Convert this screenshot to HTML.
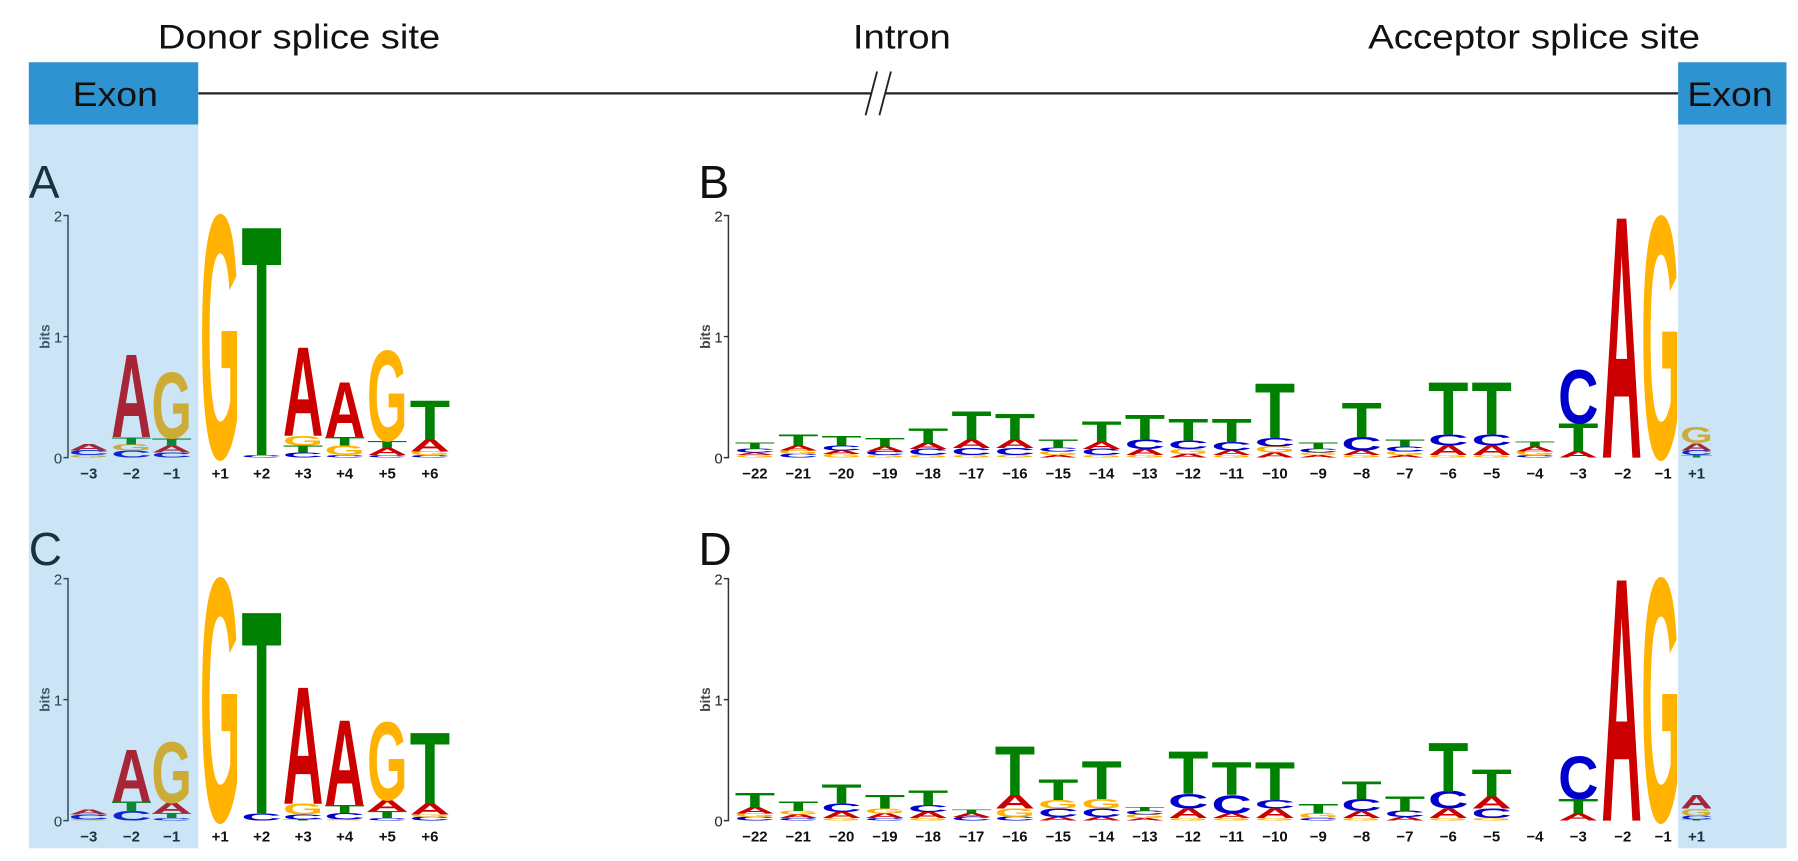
<!DOCTYPE html>
<html><head><meta charset="utf-8"><style>
html,body{margin:0;padding:0;background:#fff;}
svg{display:block;}
text{font-family:"Liberation Sans",sans-serif;}
.a{fill:#cc0000}.c{fill:#0000cc}.g{fill:#ffb300}.t{fill:#008000}
.L{font-weight:bold;}
.tk{font-size:13px;fill:#222;text-anchor:end;}
.pl{font-size:13px;font-weight:bold;fill:#111;text-anchor:middle;}
</style></head><body>
<svg width="1798" height="861" viewBox="0 0 1560 747" preserveAspectRatio="none" xmlns="http://www.w3.org/2000/svg">
<rect width="1560" height="747" fill="#fff"/>
<text x="137" y="42" font-size="30" textLength="245" lengthAdjust="spacingAndGlyphs" fill="#111">Donor splice site</text>
<text x="740" y="42" font-size="30" textLength="85" lengthAdjust="spacingAndGlyphs" fill="#111">Intron</text>
<text x="1187" y="42" font-size="30" textLength="288" lengthAdjust="spacingAndGlyphs" fill="#111">Acceptor splice site</text>
<line x1="172" y1="81" x2="1456" y2="81" stroke="#222" stroke-width="2"/>
<rect x="756" y="70" width="12" height="22" fill="#fff"/>
<line x1="751" y1="100" x2="761" y2="62" stroke="#222" stroke-width="1.6"/>
<line x1="763" y1="100" x2="773" y2="62" stroke="#222" stroke-width="1.6"/>
<rect x="25" y="54" width="147" height="54" fill="#2f93d1"/>
<rect x="1456" y="54" width="94" height="54" fill="#2f93d1"/>
<text x="63" y="92" font-size="30" textLength="74" lengthAdjust="spacingAndGlyphs" fill="#111">Exon</text>
<text x="1464" y="92" font-size="30" textLength="74" lengthAdjust="spacingAndGlyphs" fill="#111">Exon</text>
<text x="25" y="172" font-size="40" fill="#111">A</text>
<text x="606" y="172" font-size="40" fill="#111">B</text>
<text x="25" y="490" font-size="40" fill="#111">C</text>
<text x="606" y="490" font-size="40" fill="#111">D</text>
<g stroke="#333" stroke-width="1.3" fill="none">
<path d="M55 187H59V397H55M55 292H59"/>
<path d="M628 187H632V397H628M628 292H632"/>
<path d="M55 502H59V712H55M55 607H59"/>
<path d="M628 502H632V712H628M628 607H632"/>
</g>
<text class="tk" x="54" y="192">2</text><text class="tk" x="54" y="297">1</text><text class="tk" x="54" y="402">0</text>
<text class="tk" x="627" y="192">2</text><text class="tk" x="627" y="297">1</text><text class="tk" x="627" y="402">0</text>
<text class="tk" x="54" y="507">2</text><text class="tk" x="54" y="612">1</text><text class="tk" x="54" y="717">0</text>
<text class="tk" x="627" y="507">2</text><text class="tk" x="627" y="612">1</text><text class="tk" x="627" y="717">0</text>
<text transform="translate(43,292) rotate(-90)" font-size="12" font-weight="bold" fill="#444" text-anchor="middle">bits</text>
<text transform="translate(616,292) rotate(-90)" font-size="12" font-weight="bold" fill="#444" text-anchor="middle">bits</text>
<text transform="translate(43,607) rotate(-90)" font-size="12" font-weight="bold" fill="#444" text-anchor="middle">bits</text>
<text transform="translate(616,607) rotate(-90)" font-size="12" font-weight="bold" fill="#444" text-anchor="middle">bits</text>

<!-- Panel A -->
<g class="col" cx="77" base="397"><text class="L g" h=".02">G</text><text class="L c" h=".04">C</text><text class="L a" h=".05">A</text></g>
<g class="col" cx="114" base="397"><text class="L c" h=".06">C</text><text class="L g" h=".05">G</text><text class="L t" h=".06">T</text><text class="L a" h=".68">A</text></g>
<g class="col" cx="149" base="397"><text class="L c" h=".04">C</text><text class="L a" h=".06">A</text><text class="L t" h=".06">T</text><text class="L g" h=".54">G</text></g>
<g class="col" cx="191" base="397"><text class="L g" h="1.99">G</text></g>
<g class="col" cx="227" base="397"><text class="L c" h=".02">C</text><text class="L t" h="1.88">T</text></g>
<g class="col" cx="263" base="397"><text class="L c" h=".04">C</text><text class="L t" h=".06">T</text><text class="L g" h=".08">G</text><text class="L a" h=".73">A</text></g>
<g class="col" cx="299" base="397"><text class="L c" h=".02">C</text><text class="L g" h=".08">G</text><text class="L t" h=".07">T</text><text class="L a" h=".45">A</text></g>
<g class="col" cx="336" base="397"><text class="L c" h=".02">C</text><text class="L a" h=".06">A</text><text class="L t" h=".06">T</text><text class="L g" h=".74">G</text></g>
<g class="col" cx="373" base="397"><text class="L c" h=".02">C</text><text class="L g" h=".03">G</text><text class="L a" h=".1">A</text><text class="L t" h=".32">T</text></g>

<!-- Panel C -->
<g class="col" cx="77" base="712"><text class="L g" h=".01">G</text><text class="L c" h=".04">C</text><text class="L a" h=".04">A</text></g>
<g class="col" cx="114" base="712"><text class="L c" h=".08">C</text><text class="L t" h=".08">T</text><text class="L a" h=".43">A</text></g>
<g class="col" cx="149" base="712"><text class="L c" h=".02">C</text><text class="L t" h=".04">T</text><text class="L a" h=".09">A</text><text class="L g" h=".5">G</text></g>
<g class="col" cx="191" base="712"><text class="L g" h="1.99">G</text></g>
<g class="col" cx="227" base="712"><text class="L c" h=".06">C</text><text class="L t" h="1.66">T</text></g>
<g class="col" cx="263" base="712"><text class="L t" h=".01">T</text><text class="L c" h=".04">C</text><text class="L g" h=".09">G</text><text class="L a" h=".96">A</text></g>
<g class="col" cx="299" base="712"><text class="L g" h=".01">G</text><text class="L c" h=".05">C</text><text class="L t" h=".07">T</text><text class="L a" h=".7">A</text></g>
<g class="col" cx="336" base="712"><text class="L c" h=".02">C</text><text class="L t" h=".06">T</text><text class="L a" h=".09">A</text><text class="L g" h=".64">G</text></g>
<g class="col" cx="373" base="712"><text class="L c" h=".03">C</text><text class="L g" h=".02">G</text><text class="L a" h=".09">A</text><text class="L t" h=".58">T</text></g>

<!-- Panel B -->
<g class="col" cx="655" base="397"><text class="L g" h=".02">G</text><text class="L a" h=".02">A</text><text class="L c" h=".03">C</text><text class="L t" h=".05">T</text></g>
<g class="col" cx="692.6" base="397"><text class="L c" h=".03">C</text><text class="L g" h=".03">G</text><text class="L a" h=".04">A</text><text class="L t" h=".09">T</text></g>
<g class="col" cx="730.2" base="397"><text class="L g" h=".03">G</text><text class="L a" h=".03">A</text><text class="L c" h=".04">C</text><text class="L t" h=".08">T</text></g>
<g class="col" cx="767.8" base="397"><text class="L g" h=".02">G</text><text class="L c" h=".03">C</text><text class="L a" h=".04">A</text><text class="L t" h=".07">T</text></g>
<g class="col" cx="805.4" base="397"><text class="L g" h=".02">G</text><text class="L c" h=".05">C</text><text class="L a" h=".05">A</text><text class="L t" h=".12">T</text></g>
<g class="col" cx="843" base="397"><text class="L g" h=".02">G</text><text class="L c" h=".06">C</text><text class="L a" h=".07">A</text><text class="L t" h=".23">T</text></g>
<g class="col" cx="880.6" base="397"><text class="L g" h=".02">G</text><text class="L c" h=".06">C</text><text class="L a" h=".07">A</text><text class="L t" h=".21">T</text></g>
<g class="col" cx="918.2" base="397"><text class="L a" h=".02">A</text><text class="L g" h=".03">G</text><text class="L c" h=".03">C</text><text class="L t" h=".07">T</text></g>
<g class="col" cx="955.8" base="397"><text class="L g" h=".02">G</text><text class="L c" h=".05">C</text><text class="L a" h=".06">A</text><text class="L t" h=".17">T</text></g>
<g class="col" cx="993.4" base="397"><text class="L g" h=".02">G</text><text class="L a" h=".05">A</text><text class="L c" h=".08">C</text><text class="L t" h=".2">T</text></g>
<g class="col" cx="1031" base="397"><text class="L a" h=".03">A</text><text class="L g" h=".04">G</text><text class="L c" h=".07">C</text><text class="L t" h=".18">T</text></g>
<g class="col" cx="1068.6" base="397"><text class="L g" h=".02">G</text><text class="L a" h=".04">A</text><text class="L c" h=".07">C</text><text class="L t" h=".19">T</text></g>
<g class="col" cx="1106.2" base="397"><text class="L a" h=".04">A</text><text class="L g" h=".05">G</text><text class="L c" h=".07">C</text><text class="L t" h=".45">T</text></g>
<g class="col" cx="1143.8" base="397"><text class="L a" h=".02">A</text><text class="L g" h=".02">G</text><text class="L c" h=".03">C</text><text class="L t" h=".05">T</text></g>
<g class="col" cx="1181.4" base="397"><text class="L g" h=".02">G</text><text class="L a" h=".04">A</text><text class="L c" h=".11">C</text><text class="L t" h=".28">T</text></g>
<g class="col" cx="1219" base="397"><text class="L a" h=".02">A</text><text class="L g" h=".03">G</text><text class="L c" h=".04">C</text><text class="L t" h=".06">T</text></g>
<g class="col" cx="1256.6" base="397"><text class="L g" h=".02">G</text><text class="L a" h=".08">A</text><text class="L c" h=".09">C</text><text class="L t" h=".43">T</text></g>
<g class="col" cx="1294.2" base="397"><text class="L g" h=".02">G</text><text class="L a" h=".08">A</text><text class="L c" h=".09">C</text><text class="L t" h=".43">T</text></g>
<g class="col" cx="1331.8" base="397"><text class="L c" h=".02">C</text><text class="L g" h=".03">G</text><text class="L a" h=".04">A</text><text class="L t" h=".04">T</text></g>
<g class="col" cx="1369.4" base="397"><text class="L a" h=".05">A</text><text class="L t" h=".23">T</text><text class="L c" h=".44">C</text></g>
<g class="col" cx="1407" base="397"><text class="L a" h="1.98">A</text></g>
<g class="col" cx="1441" base="397" w="34"><text class="L g" h="1.98">G</text></g>
<g class="col" cx="1472" base="397" w="28"><text class="L t" h=".02">T</text><text class="L c" h=".04">C</text><text class="L a" h=".06">A</text><text class="L g" h=".13">G</text></g>

<!-- Panel D -->
<g class="col" cx="655" base="712"><text class="L c" h=".03">C</text><text class="L g" h=".03">G</text><text class="L a" h=".05">A</text><text class="L t" h=".12">T</text></g>
<g class="col" cx="692.6" base="712"><text class="L c" h=".02">C</text><text class="L a" h=".03">A</text><text class="L g" h=".03">G</text><text class="L t" h=".08">T</text></g>
<g class="col" cx="730.2" base="712"><text class="L g" h=".02">G</text><text class="L a" h=".05">A</text><text class="L c" h=".07">C</text><text class="L t" h=".16">T</text></g>
<g class="col" cx="767.8" base="712"><text class="L c" h=".02">C</text><text class="L a" h=".04">A</text><text class="L g" h=".04">G</text><text class="L t" h=".11">T</text></g>
<g class="col" cx="805.4" base="712"><text class="L g" h=".02">G</text><text class="L a" h=".05">A</text><text class="L c" h=".06">C</text><text class="L t" h=".12">T</text></g>
<g class="col" cx="843" base="712"><text class="L c" h=".03">C</text><text class="L a" h=".03">A</text><text class="L t" h=".03">T</text></g>
<g class="col" cx="880.6" base="712"><text class="L c" h=".03">C</text><text class="L g" h=".07">G</text><text class="L a" h=".11">A</text><text class="L t" h=".4">T</text></g>
<g class="col" cx="918.2" base="712"><text class="L a" h=".03">A</text><text class="L c" h=".07">C</text><text class="L g" h=".07">G</text><text class="L t" h=".17">T</text></g>
<g class="col" cx="955.8" base="712"><text class="L a" h=".03">A</text><text class="L c" h=".07">C</text><text class="L g" h=".08">G</text><text class="L t" h=".31">T</text></g>
<g class="col" cx="993.4" base="712"><text class="L a" h=".02">A</text><text class="L g" h=".03">G</text><text class="L c" h=".03">C</text><text class="L t" h=".03">T</text></g>
<g class="col" cx="1031" base="712"><text class="L g" h=".02">G</text><text class="L a" h=".08">A</text><text class="L c" h=".12">C</text><text class="L t" h=".35">T</text></g>
<g class="col" cx="1068.6" base="712"><text class="L g" h=".02">G</text><text class="L a" h=".04">A</text><text class="L c" h=".15">C</text><text class="L t" h=".27">T</text></g>
<g class="col" cx="1106.2" base="712"><text class="L g" h=".02">G</text><text class="L a" h=".08">A</text><text class="L c" h=".07">C</text><text class="L t" h=".31">T</text></g>
<g class="col" cx="1143.8" base="712"><text class="L c" h=".02">C</text><text class="L g" h=".04">G</text><text class="L t" h=".08">T</text></g>
<g class="col" cx="1181.4" base="712"><text class="L g" h=".02">G</text><text class="L a" h=".06">A</text><text class="L c" h=".1">C</text><text class="L t" h=".14">T</text></g>
<g class="col" cx="1219" base="712"><text class="L a" h=".03">A</text><text class="L c" h=".05">C</text><text class="L t" h=".12">T</text></g>
<g class="col" cx="1256.6" base="712"><text class="L g" h=".02">G</text><text class="L a" h=".08">A</text><text class="L c" h=".14">C</text><text class="L t" h=".4">T</text></g>
<g class="col" cx="1294.2" base="712"><text class="L g" h=".02">G</text><text class="L c" h=".08">C</text><text class="L a" h=".1">A</text><text class="L t" h=".22">T</text></g>
<g class="col" cx="1369.4" base="712"><text class="L a" h=".06">A</text><text class="L t" h=".12">T</text><text class="L c" h=".35">C</text></g>
<g class="col" cx="1407" base="712"><text class="L a" h="1.99">A</text></g>
<g class="col" cx="1441" base="712" w="34"><text class="L g" h="1.99">G</text></g>
<g class="col" cx="1472" base="712" w="28"><text class="L t" h=".01">T</text><text class="L c" h=".03">C</text><text class="L g" h=".06">G</text><text class="L a" h=".11">A</text></g>

<g>
<text class="pl" x="77" y="415">−3</text><text class="pl" x="114" y="415">−2</text><text class="pl" x="149" y="415">−1</text><text class="pl" x="191" y="415">+1</text><text class="pl" x="227" y="415">+2</text><text class="pl" x="263" y="415">+3</text><text class="pl" x="299" y="415">+4</text><text class="pl" x="336" y="415">+5</text><text class="pl" x="373" y="415">+6</text>
<text class="pl" x="77" y="730">−3</text><text class="pl" x="114" y="730">−2</text><text class="pl" x="149" y="730">−1</text><text class="pl" x="191" y="730">+1</text><text class="pl" x="227" y="730">+2</text><text class="pl" x="263" y="730">+3</text><text class="pl" x="299" y="730">+4</text><text class="pl" x="336" y="730">+5</text><text class="pl" x="373" y="730">+6</text>
</g>
<g>
<text class="pl" x="655" y="415">−22</text><text class="pl" x="692.6" y="415">−21</text><text class="pl" x="730.2" y="415">−20</text><text class="pl" x="767.8" y="415">−19</text><text class="pl" x="805.4" y="415">−18</text><text class="pl" x="843" y="415">−17</text><text class="pl" x="880.6" y="415">−16</text><text class="pl" x="918.2" y="415">−15</text><text class="pl" x="955.8" y="415">−14</text><text class="pl" x="993.4" y="415">−13</text><text class="pl" x="1031" y="415">−12</text><text class="pl" x="1068.6" y="415">−11</text><text class="pl" x="1106.2" y="415">−10</text><text class="pl" x="1143.8" y="415">−9</text><text class="pl" x="1181.4" y="415">−8</text><text class="pl" x="1219" y="415">−7</text><text class="pl" x="1256.6" y="415">−6</text><text class="pl" x="1294.2" y="415">−5</text><text class="pl" x="1331.8" y="415">−4</text><text class="pl" x="1369.4" y="415">−3</text><text class="pl" x="1408" y="415">−2</text><text class="pl" x="1443" y="415">−1</text><text class="pl" x="1472" y="415">+1</text>
<text class="pl" x="655" y="730">−22</text><text class="pl" x="692.6" y="730">−21</text><text class="pl" x="730.2" y="730">−20</text><text class="pl" x="767.8" y="730">−19</text><text class="pl" x="805.4" y="730">−18</text><text class="pl" x="843" y="730">−17</text><text class="pl" x="880.6" y="730">−16</text><text class="pl" x="918.2" y="730">−15</text><text class="pl" x="955.8" y="730">−14</text><text class="pl" x="993.4" y="730">−13</text><text class="pl" x="1031" y="730">−12</text><text class="pl" x="1068.6" y="730">−11</text><text class="pl" x="1106.2" y="730">−10</text><text class="pl" x="1143.8" y="730">−9</text><text class="pl" x="1181.4" y="730">−8</text><text class="pl" x="1219" y="730">−7</text><text class="pl" x="1256.6" y="730">−6</text><text class="pl" x="1294.2" y="730">−5</text><text class="pl" x="1331.8" y="730">−4</text><text class="pl" x="1369.4" y="730">−3</text><text class="pl" x="1408" y="730">−2</text><text class="pl" x="1443" y="730">−1</text><text class="pl" x="1472" y="730">+1</text>
</g>
<rect x="25" y="108" width="147" height="628" fill="rgb(52,152,219)" fill-opacity="0.25"/>
<rect x="1456" y="108" width="94" height="628" fill="rgb(52,152,219)" fill-opacity="0.25"/>
</svg>
<script>
(function(){
var P=105, CAP=0.69;
var cols=document.querySelectorAll('g.col');
for(var i=0;i<cols.length;i++){
  var g=cols[i];
  var cx=parseFloat(g.getAttribute('cx')), base=parseFloat(g.getAttribute('base'));
  var w=parseFloat(g.getAttribute('w')||'35');
  var cum=0, ts=g.querySelectorAll('text');
  for(var j=0;j<ts.length;j++){
    var t=ts[j], h=parseFloat(t.getAttribute('h'))*P;
    var fs=Math.max(h/CAP,0.5);
    t.setAttribute('x',cx-w/2);
    t.setAttribute('y',base-cum);
    t.setAttribute('font-size',fs);
    t.setAttribute('textLength',w);
    t.setAttribute('lengthAdjust','spacingAndGlyphs');
    cum+=h;
  }
}
})();
</script>
</body></html>
